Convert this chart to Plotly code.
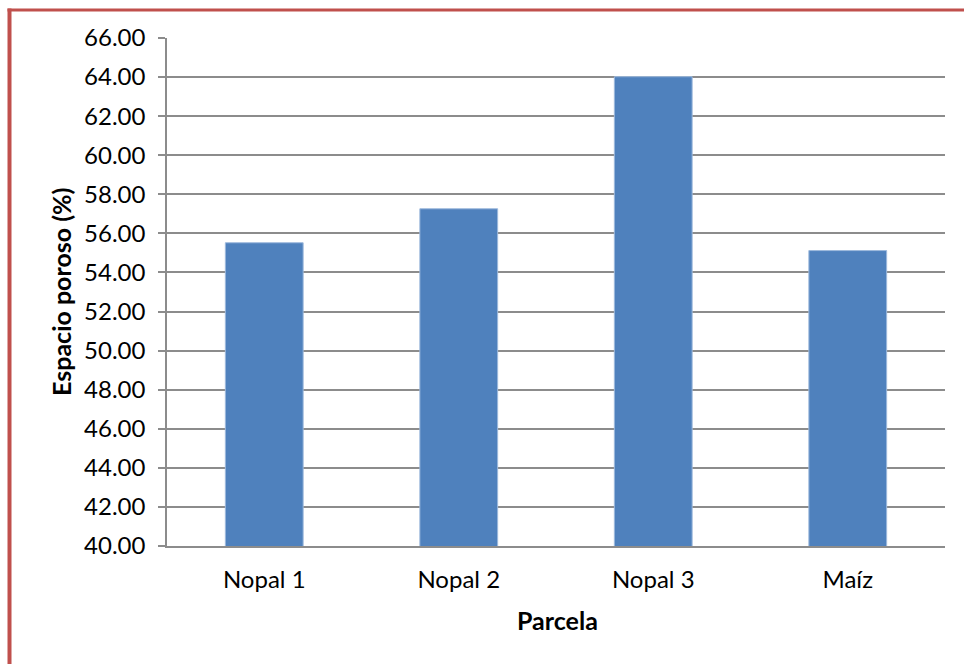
import plotly.graph_objects as go

categories = ["Nopal 1", "Nopal 2", "Nopal 3", "Maíz"]
values = [55.52, 57.26, 64.02, 55.12]
y_title = "Espacio poroso (%)"
x_title = "Parcela"

W, H = 964, 664
L, R, T, B = 167, 945, 38, 546
pw, ph = R - L, B - T

def px_x(x):
    return (x - L) / pw

def px_y(y):
    return 1 - (y - T) / ph

font = "Lato"
grid = "#8C8C8C"

fig = go.Figure(go.Bar(
    x=categories, y=values,
    marker=dict(color="#4F81BD", line=dict(color="#9DB9DC", width=1)),
    width=0.4,
))

fig.update_layout(
    width=W, height=H,
    margin=dict(l=L, r=W - R, t=T, b=H - B),
    paper_bgcolor="white", plot_bgcolor="white",
    showlegend=False,
    font=dict(family=font, size=24, color="black"),
    xaxis=dict(
        showline=True, linecolor=grid, linewidth=1.5,
        ticks="", showgrid=False, tickfont=dict(size=24),
        ticklabelstandoff=11,
    ),
    yaxis=dict(
        range=[40, 66], dtick=2, tick0=40, tickformat=".2f",
        showline=True, linecolor=grid, linewidth=1.5,
        ticks="outside", ticklen=7, tickcolor=grid, tickwidth=1.5,
        showgrid=True, gridcolor=grid, gridwidth=1.5,
        tickfont=dict(size=24), zeroline=False,
        ticklabelstandoff=8,
    ),
    annotations=[
        dict(text="<b>" + x_title + "</b>", xref="paper", yref="paper",
             x=px_x(557), y=px_y(620), showarrow=False,
             xanchor="center", yanchor="middle",
             font=dict(size=25, family=font)),
        dict(text="<b>" + y_title + "</b>", xref="paper", yref="paper",
             x=px_x(61), y=px_y(292), showarrow=False, textangle=-90,
             xanchor="center", yanchor="middle",
             font=dict(size=25, family=font)),
    ],
    shapes=[
        dict(type="line", xref="paper", yref="paper",
             x0=px_x(9.5), x1=px_x(9.5), y0=px_y(8.5), y1=px_y(670),
             line=dict(color="#C0504D", width=4)),
        dict(type="line", xref="paper", yref="paper",
             x0=px_x(7.5), x1=px_x(970), y0=px_y(10), y1=px_y(10),
             line=dict(color="#C0504D", width=3)),
    ],
)

fig.write_html("out.html")
